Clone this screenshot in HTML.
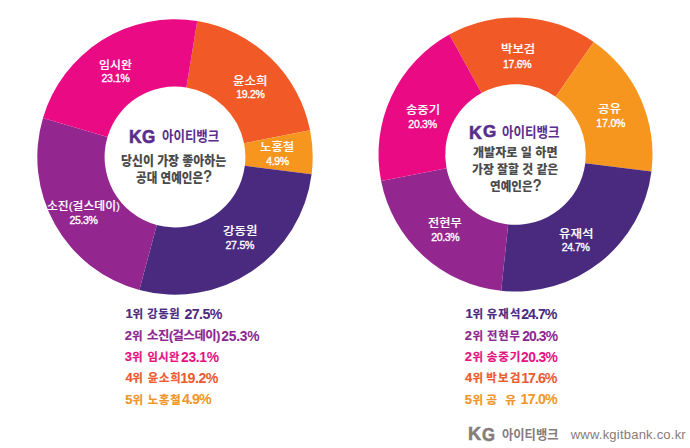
<!DOCTYPE html>
<html><head><meta charset="utf-8"><style>*{margin:0;padding:0}
html,body{width:690px;height:448px;background:#fff;overflow:hidden}
body{position:relative}
.bg{position:absolute;left:0;top:0}
div{position:absolute;white-space:nowrap;line-height:1}</style></head><body><svg class="bg" width="690" height="448" viewBox="0 0 690 448"><path d="M197.25,21.11A137.7,137.7 0 0 1 310.08,130.25L244.06,143.33A70.4,70.4 0 0 0 186.38,87.53Z" fill="#f15a27"/><path d="M310.08,130.25A137.7,137.7 0 0 1 311.61,174.26L244.84,165.82A70.4,70.4 0 0 0 244.06,143.33Z" fill="#f6961f"/><path d="M311.61,174.26A137.7,137.7 0 0 1 139.36,290.01L156.78,225.00A70.4,70.4 0 0 0 244.84,165.82Z" fill="#4a2a7f"/><path d="M139.36,290.01A137.7,137.7 0 0 1 42.97,117.89L107.50,137.01A70.4,70.4 0 0 0 156.78,225.00Z" fill="#93278f"/><path d="M42.97,117.89A137.7,137.7 0 0 1 197.25,21.11L186.38,87.53A70.4,70.4 0 0 0 107.50,137.01Z" fill="#ea0b84"/><path d="M449.29,34.56A137,137 0 0 1 593.69,42.00L555.62,96.77A70.3,70.3 0 0 0 481.53,92.95Z" fill="#f15a27"/><path d="M593.69,42.00A137,137 0 0 1 651.45,171.43L585.26,163.19A70.3,70.3 0 0 0 555.62,96.77Z" fill="#f6961f"/><path d="M651.45,171.43A137,137 0 0 1 501.18,290.75L508.15,224.41A70.3,70.3 0 0 0 585.26,163.19Z" fill="#4a2a7f"/><path d="M501.18,290.75A137,137 0 0 1 381.11,181.11L446.54,168.15A70.3,70.3 0 0 0 508.15,224.41Z" fill="#93278f"/><path d="M381.11,181.11A137,137 0 0 1 449.29,34.56L481.53,92.95A70.3,70.3 0 0 0 446.54,168.15Z" fill="#ea0b84"/></svg>
<div style="font-family:'Liberation Sans','Noto Sans CJK KR',sans-serif;font-weight:500;font-size:11.6px;-webkit-text-stroke:0.15px currentColor;;left:99.13px;top:58.95px;transform:scaleX(1.0258);transform-origin:0 0;color:#fff">임시완</div>
<div style="font-family:'Liberation Sans','Noto Sans CJK KR',sans-serif;font-weight:400;font-size:10.5px;-webkit-text-stroke:0.35px currentColor;;letter-spacing:-0.32px;left:101.45px;top:72.50px;color:#fff">23.1%</div>
<div style="font-family:'Liberation Sans','Noto Sans CJK KR',sans-serif;font-weight:500;font-size:11.6px;-webkit-text-stroke:0.15px currentColor;;left:233.36px;top:75.45px;transform:scaleX(1.0777);transform-origin:0 0;color:#fff">윤소희</div>
<div style="font-family:'Liberation Sans','Noto Sans CJK KR',sans-serif;font-weight:400;font-size:10.5px;-webkit-text-stroke:0.35px currentColor;;letter-spacing:-0.24px;left:236.15px;top:89.40px;color:#fff">19.2%</div>
<div style="font-family:'Liberation Sans','Noto Sans CJK KR',sans-serif;font-weight:500;font-size:11.6px;-webkit-text-stroke:0.15px currentColor;;left:260.46px;top:140.85px;transform:scaleX(1.0721);transform-origin:0 0;color:#fff">노홍철</div>
<div style="font-family:'Liberation Sans','Noto Sans CJK KR',sans-serif;font-weight:400;font-size:10.5px;-webkit-text-stroke:0.35px currentColor;;letter-spacing:-0.37px;left:266.30px;top:155.50px;color:#fff">4.9%</div>
<div style="font-family:'Liberation Sans','Noto Sans CJK KR',sans-serif;font-weight:500;font-size:11.6px;-webkit-text-stroke:0.15px currentColor;;left:223.47px;top:224.75px;transform:scaleX(1.0738);transform-origin:0 0;color:#fff">강동원</div>
<div style="font-family:'Liberation Sans','Noto Sans CJK KR',sans-serif;font-weight:400;font-size:10.5px;-webkit-text-stroke:0.35px currentColor;;letter-spacing:-0.20px;left:225.45px;top:240.00px;color:#fff">27.5%</div>
<div style="font-family:'Liberation Sans','Noto Sans CJK KR',sans-serif;font-weight:500;font-size:11.6px;-webkit-text-stroke:0.15px currentColor;;left:46.79px;top:200.25px;transform:scaleX(1.0170);transform-origin:0 0;color:#fff">소진(걸스데이)</div>
<div style="font-family:'Liberation Sans','Noto Sans CJK KR',sans-serif;font-weight:400;font-size:10.5px;-webkit-text-stroke:0.35px currentColor;;letter-spacing:-0.40px;left:69.55px;top:214.60px;color:#fff">25.3%</div>
<div style="font-family:'Liberation Sans','Noto Sans CJK KR',sans-serif;font-weight:500;font-size:11.6px;-webkit-text-stroke:0.15px currentColor;;left:500.60px;top:43.05px;transform:scaleX(1.0667);transform-origin:0 0;color:#fff">박보검</div>
<div style="font-family:'Liberation Sans','Noto Sans CJK KR',sans-serif;font-weight:400;font-size:10.5px;-webkit-text-stroke:0.35px currentColor;;letter-spacing:-0.29px;left:503.05px;top:58.60px;color:#fff">17.6%</div>
<div style="font-family:'Liberation Sans','Noto Sans CJK KR',sans-serif;font-weight:500;font-size:11.6px;-webkit-text-stroke:0.15px currentColor;;left:598.36px;top:103.45px;transform:scaleX(1.0780);transform-origin:0 0;color:#fff">공유</div>
<div style="font-family:'Liberation Sans','Noto Sans CJK KR',sans-serif;font-weight:400;font-size:10.5px;-webkit-text-stroke:0.35px currentColor;;letter-spacing:-0.15px;left:596.25px;top:117.80px;color:#fff">17.0%</div>
<div style="font-family:'Liberation Sans','Noto Sans CJK KR',sans-serif;font-weight:500;font-size:11.6px;-webkit-text-stroke:0.15px currentColor;;left:558.96px;top:228.15px;transform:scaleX(1.0777);transform-origin:0 0;color:#fff">유재석</div>
<div style="font-family:'Liberation Sans','Noto Sans CJK KR',sans-serif;font-weight:400;font-size:10.5px;-webkit-text-stroke:0.35px currentColor;;letter-spacing:-0.45px;left:561.85px;top:242.30px;color:#fff">24.7%</div>
<div style="font-family:'Liberation Sans','Noto Sans CJK KR',sans-serif;font-weight:500;font-size:11.6px;-webkit-text-stroke:0.15px currentColor;;left:428.47px;top:217.45px;transform:scaleX(1.0516);transform-origin:0 0;color:#fff">전현무</div>
<div style="font-family:'Liberation Sans','Noto Sans CJK KR',sans-serif;font-weight:400;font-size:10.5px;-webkit-text-stroke:0.35px currentColor;;letter-spacing:-0.33px;left:431.15px;top:231.60px;color:#fff">20.3%</div>
<div style="font-family:'Liberation Sans','Noto Sans CJK KR',sans-serif;font-weight:500;font-size:11.6px;-webkit-text-stroke:0.15px currentColor;;left:405.87px;top:104.05px;transform:scaleX(1.0612);transform-origin:0 0;color:#fff">송중기</div>
<div style="font-family:'Liberation Sans','Noto Sans CJK KR',sans-serif;font-weight:400;font-size:10.5px;-webkit-text-stroke:0.35px currentColor;;letter-spacing:-0.28px;left:408.35px;top:119.30px;color:#fff">20.3%</div>
<div style="font-family:'Liberation Sans',sans-serif;font-weight:700;font-size:18.20px;-webkit-text-stroke:0.6px currentColor;;left:129.04px;top:128.05px;transform:scaleX(0.9600);transform-origin:0 0;color:#5a2d8c">K</div>
<div style="font-family:'Liberation Sans',sans-serif;font-weight:700;font-size:17.50px;-webkit-text-stroke:0.6px currentColor;;left:142.11px;top:128.80px;transform:scaleX(0.9714);transform-origin:0 0;color:#5a2d8c">G</div>
<div style="font-family:'Liberation Sans','Noto Sans CJK KR',sans-serif;font-weight:700;font-size:13.96px;;left:162.13px;top:130.35px;transform:scaleX(0.8921);transform-origin:0 0;color:#5a2d8c">아이티뱅크</div>
<div style="font-family:'Liberation Sans','Noto Sans CJK KR',sans-serif;font-weight:900;font-size:13.2px;font-size:13.0px;left:120.51px;top:154.10px;transform:scaleX(0.9152);transform-origin:0 0;color:#4b4b4b">당신이 가장 좋아하는</div>
<div style="font-family:'Liberation Sans','Noto Sans CJK KR',sans-serif;font-weight:900;font-size:13.2px;font-size:13.0px;left:136.05px;top:171.45px;transform:scaleX(0.8902);transform-origin:0 0;color:#4b4b4b">공대 연예인은<span style="font-size:1.3em;line-height:0">?</span></div>
<div style="font-family:'Liberation Sans',sans-serif;font-weight:700;font-size:17.92px;-webkit-text-stroke:0.6px currentColor;;left:469.20px;top:124.60px;transform:scaleX(0.9959);transform-origin:0 0;color:#5a2d8c">K</div>
<div style="font-family:'Liberation Sans',sans-serif;font-weight:700;font-size:17.23px;-webkit-text-stroke:0.6px currentColor;;left:483.21px;top:123.35px;transform:scaleX(0.9878);transform-origin:0 0;color:#5a2d8c">G</div>
<div style="font-family:'Liberation Sans','Noto Sans CJK KR',sans-serif;font-weight:700;font-size:13.64px;;left:502.24px;top:125.60px;transform:scaleX(0.9187);transform-origin:0 0;color:#5a2d8c">아이티뱅크</div>
<div style="font-family:'Liberation Sans','Noto Sans CJK KR',sans-serif;font-weight:900;font-size:13.2px;font-size:12.3px;left:473.05px;top:147.35px;transform:scaleX(0.9829);transform-origin:0 0;color:#4b4b4b">개발자로 일 하면</div>
<div style="font-family:'Liberation Sans','Noto Sans CJK KR',sans-serif;font-weight:900;font-size:13.2px;font-size:12.3px;left:471.96px;top:163.60px;transform:scaleX(0.9645);transform-origin:0 0;color:#4b4b4b">가장 잘할 것 같은</div>
<div style="font-family:'Liberation Sans','Noto Sans CJK KR',sans-serif;font-weight:900;font-size:13.2px;font-size:12.3px;left:490.03px;top:180.55px;transform:scaleX(0.9402);transform-origin:0 0;color:#4b4b4b">연예인은<span style="font-size:1.3em;line-height:0">?</span></div>
<div style="font-family:'Liberation Sans','Noto Sans CJK KR',sans-serif;font-weight:700;font-size:11.59px;-webkit-text-stroke:0.2px currentColor;;letter-spacing:-0.35px;left:125.55px;top:307.15px;color:#4b2a7f"><span style="font-size:1.12em">1</span>위</div>
<div style="font-family:'Liberation Sans','Noto Sans CJK KR',sans-serif;font-weight:700;font-size:11.32px;-webkit-text-stroke:0.2px currentColor;;letter-spacing:0.62px;left:147.25px;top:308.90px;color:#4b2a7f">강동원</div>
<div style="font-family:'Liberation Sans','Noto Sans CJK KR',sans-serif;font-weight:700;font-size:14.23px;;letter-spacing:-0.58px;left:184.40px;top:306.50px;color:#4b2a7f">27.5%</div>
<div style="font-family:'Liberation Sans','Noto Sans CJK KR',sans-serif;font-weight:700;font-size:11.59px;-webkit-text-stroke:0.2px currentColor;;letter-spacing:-0.05px;left:124.75px;top:328.59px;color:#8c2790"><span style="font-size:1.12em">2</span>위</div>
<div style="font-family:'Liberation Sans','Noto Sans CJK KR',sans-serif;font-weight:700;font-size:12.28px;-webkit-text-stroke:0.2px currentColor;;letter-spacing:-0.38px;left:147.10px;top:330.44px;color:#8c2790">소진(걸스데이)</div>
<div style="font-family:'Liberation Sans','Noto Sans CJK KR',sans-serif;font-weight:700;font-size:13.87px;;letter-spacing:-0.25px;left:221.30px;top:329.66px;color:#8c2790">25.3%</div>
<div style="font-family:'Liberation Sans','Noto Sans CJK KR',sans-serif;font-weight:700;font-size:11.59px;-webkit-text-stroke:0.2px currentColor;;letter-spacing:-0.15px;left:124.85px;top:350.00px;color:#e5127f"><span style="font-size:1.12em">3</span>위</div>
<div style="font-family:'Liberation Sans','Noto Sans CJK KR',sans-serif;font-weight:700;font-size:11.32px;-webkit-text-stroke:0.2px currentColor;;letter-spacing:0.33px;left:147.50px;top:352.00px;color:#e5127f">임시완</div>
<div style="font-family:'Liberation Sans','Noto Sans CJK KR',sans-serif;font-weight:700;font-size:13.87px;;letter-spacing:-0.36px;left:181.10px;top:351.10px;color:#e5127f">23.1%</div>
<div style="font-family:'Liberation Sans','Noto Sans CJK KR',sans-serif;font-weight:700;font-size:11.59px;-webkit-text-stroke:0.2px currentColor;;letter-spacing:-0.45px;left:125.40px;top:371.42px;color:#ec5a2e"><span style="font-size:1.12em">4</span>위</div>
<div style="font-family:'Liberation Sans','Noto Sans CJK KR',sans-serif;font-weight:700;font-size:11.32px;-webkit-text-stroke:0.2px currentColor;;letter-spacing:0.85px;left:147.85px;top:373.16px;color:#ec5a2e">윤소희</div>
<div style="font-family:'Liberation Sans','Noto Sans CJK KR',sans-serif;font-weight:700;font-size:14.23px;;letter-spacing:-0.50px;left:180.20px;top:370.78px;color:#ec5a2e">19.2%</div>
<div style="font-family:'Liberation Sans','Noto Sans CJK KR',sans-serif;font-weight:700;font-size:11.59px;-webkit-text-stroke:0.2px currentColor;;letter-spacing:-0.05px;left:125.25px;top:392.85px;color:#f0952a"><span style="font-size:1.12em">5</span>위</div>
<div style="font-family:'Liberation Sans','Noto Sans CJK KR',sans-serif;font-weight:700;font-size:11.32px;-webkit-text-stroke:0.2px currentColor;;letter-spacing:0.88px;left:147.75px;top:394.85px;color:#f0952a">노홍철</div>
<div style="font-family:'Liberation Sans','Noto Sans CJK KR',sans-serif;font-weight:700;font-size:14.23px;;letter-spacing:-0.92px;left:182.05px;top:392.20px;color:#f0952a">4.9%</div>
<div style="font-family:'Liberation Sans','Noto Sans CJK KR',sans-serif;font-weight:700;font-size:11.59px;-webkit-text-stroke:0.2px currentColor;;letter-spacing:-0.35px;left:465.55px;top:307.15px;color:#4b2a7f"><span style="font-size:1.12em">1</span>위</div>
<div style="font-family:'Liberation Sans','Noto Sans CJK KR',sans-serif;font-weight:700;font-size:11.32px;-webkit-text-stroke:0.2px currentColor;;letter-spacing:1.20px;left:486.75px;top:308.90px;color:#4b2a7f">유재석</div>
<div style="font-family:'Liberation Sans','Noto Sans CJK KR',sans-serif;font-weight:700;font-size:14.23px;;letter-spacing:-1.00px;left:521.20px;top:306.50px;color:#4b2a7f">24.7%</div>
<div style="font-family:'Liberation Sans','Noto Sans CJK KR',sans-serif;font-weight:700;font-size:11.59px;-webkit-text-stroke:0.2px currentColor;;letter-spacing:0.35px;left:464.85px;top:328.59px;color:#8c2790"><span style="font-size:1.12em">2</span>위</div>
<div style="font-family:'Liberation Sans','Noto Sans CJK KR',sans-serif;font-weight:700;font-size:11.32px;-webkit-text-stroke:0.2px currentColor;;letter-spacing:0.90px;left:486.95px;top:330.59px;color:#8c2790">전현무</div>
<div style="font-family:'Liberation Sans','Noto Sans CJK KR',sans-serif;font-weight:700;font-size:13.87px;;letter-spacing:-0.88px;left:522.20px;top:329.66px;color:#8c2790">20.3%</div>
<div style="font-family:'Liberation Sans','Noto Sans CJK KR',sans-serif;font-weight:700;font-size:11.59px;-webkit-text-stroke:0.2px currentColor;;letter-spacing:0.35px;left:464.85px;top:350.00px;color:#e5127f"><span style="font-size:1.12em">2</span>위</div>
<div style="font-family:'Liberation Sans','Noto Sans CJK KR',sans-serif;font-weight:700;font-size:11.59px;-webkit-text-stroke:0.2px currentColor;;letter-spacing:0.82px;left:486.75px;top:352.00px;color:#e5127f">송중기</div>
<div style="font-family:'Liberation Sans','Noto Sans CJK KR',sans-serif;font-weight:700;font-size:13.87px;;letter-spacing:-0.66px;left:521.10px;top:351.10px;color:#e5127f">20.3%</div>
<div style="font-family:'Liberation Sans','Noto Sans CJK KR',sans-serif;font-weight:700;font-size:11.59px;-webkit-text-stroke:0.2px currentColor;;letter-spacing:0.10px;left:465.10px;top:371.42px;color:#ec5a2e"><span style="font-size:1.12em">4</span>위</div>
<div style="font-family:'Liberation Sans','Noto Sans CJK KR',sans-serif;font-weight:700;font-size:11.32px;-webkit-text-stroke:0.2px currentColor;;letter-spacing:1.45px;left:486.25px;top:373.16px;color:#ec5a2e">박보검</div>
<div style="font-family:'Liberation Sans','Noto Sans CJK KR',sans-serif;font-weight:700;font-size:14.23px;;letter-spacing:-1.00px;left:521.20px;top:370.78px;color:#ec5a2e">17.6%</div>
<div style="font-family:'Liberation Sans','Noto Sans CJK KR',sans-serif;font-weight:700;font-size:11.59px;-webkit-text-stroke:0.2px currentColor;;letter-spacing:0.35px;left:464.85px;top:392.85px;color:#f0952a"><span style="font-size:1.12em">5</span>위</div>
<div style="font-family:'Liberation Sans','Noto Sans CJK KR',sans-serif;font-weight:700;font-size:11.84px;-webkit-text-stroke:0.2px currentColor;;letter-spacing:0.00px;left:486.20px;top:394.60px;color:#f0952a">공</div>
<div style="font-family:'Liberation Sans','Noto Sans CJK KR',sans-serif;font-weight:700;font-size:14.23px;;letter-spacing:-0.79px;left:520.60px;top:392.20px;color:#f0952a">17.0%</div>
<div style="font-family:'Liberation Sans','Noto Sans CJK KR',sans-serif;font-weight:700;font-size:11.84px;-webkit-text-stroke:0.2px currentColor;;letter-spacing:0.00px;left:505.20px;top:394.85px;color:#f0952a">유</div>
<div style="font-family:'Liberation Sans',sans-serif;font-weight:700;font-size:18.04px;-webkit-text-stroke:0.5px currentColor;;left:467.99px;top:424.95px;transform:scaleX(1.0122);transform-origin:0 0;color:#857c7a">K</div>
<div style="font-family:'Liberation Sans',sans-serif;font-weight:700;font-size:17.68px;-webkit-text-stroke:0.5px currentColor;;left:482.43px;top:426.70px;transform:scaleX(0.9440);transform-origin:0 0;color:#857c7a">G</div>
<div style="font-family:'Liberation Sans','Noto Sans CJK KR',sans-serif;font-weight:700;font-size:12.82px;;left:502.22px;top:428.55px;transform:scaleX(0.9586);transform-origin:0 0;color:#857c7a">아이티뱅크</div>
<div style="font-family:'Liberation Sans',sans-serif;font-weight:400;font-size:13px;;letter-spacing:0.22px;left:570.70px;top:428.10px;color:#857c7a">www.kgitbank.co.kr</div>
</body></html>
